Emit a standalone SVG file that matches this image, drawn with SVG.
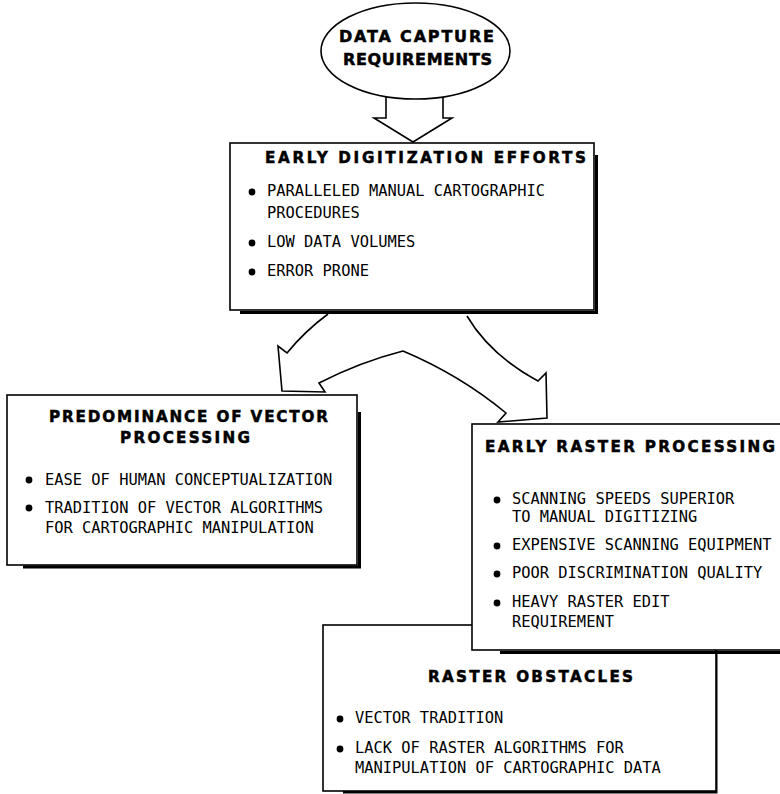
<svg xmlns="http://www.w3.org/2000/svg" width="780" height="794" viewBox="0 0 780 794">
<style>
.box{fill:#fff;stroke:#000;stroke-width:1.6}
.shadow{fill:none;stroke:#000;stroke-width:3}
.conn{fill:#fff;stroke:#000;stroke-width:1.6;stroke-linejoin:miter}
.title{font-family:"DejaVu Sans","Liberation Sans",sans-serif;font-weight:bold;font-size:15.2px;fill:#000;stroke:#000;stroke-width:0.5}
.body{font-family:"DejaVu Sans Mono",monospace;font-size:15.4px;fill:#000}
.dot{fill:#000}
</style>
<rect width="780" height="794" fill="#fff"/>
<g id="connectors">
<path class="conn" d="M386,90 L386,118 L374,118 L413,142 L452,118 L443,118 L443,90"/>
<path class="conn" d="M328,314 Q305,331 287,353 L278,346 L282,391 L325,392 L319,383 Q360,362 403,351 Q460,375 506,413 L498,422 L547,418 L546,373 L538,381 Q490,355 467,316"/>
</g>
<g id="data-capture">
<ellipse class="box" cx="415.5" cy="51" rx="94.5" ry="48"/>
<text class="title" x="339" y="42" textLength="155" lengthAdjust="spacing" style="font-size:16px">DATA CAPTURE</text>
<text class="title" x="343" y="65" textLength="149" lengthAdjust="spacing" style="font-size:16px">REQUIREMENTS</text>
</g>
<g id="early-digitization">
<polyline class="shadow" points="240,312.5 596.5,312.5 596.5,155"/>
<rect class="box" x="230" y="143" width="364" height="167"/>
<text class="title" x="265" y="163" textLength="321" lengthAdjust="spacing">EARLY DIGITIZATION EFFORTS</text>
<circle class="dot" cx="252" cy="192" r="3.4"/>
<text class="body" x="267" y="196">PARALLELED MANUAL CARTOGRAPHIC</text>
<text class="body" x="267" y="218">PROCEDURES</text>
<circle class="dot" cx="252" cy="243" r="3.4"/>
<text class="body" x="267" y="247">LOW DATA VOLUMES</text>
<circle class="dot" cx="252" cy="272" r="3.4"/>
<text class="body" x="267" y="276">ERROR PRONE</text>
</g>
<g id="vector-processing">
<polyline class="shadow" points="23,567 359.5,567 359.5,412"/>
<rect class="box" x="7" y="395" width="350" height="170"/>
<text class="title" x="49" y="422" textLength="279" lengthAdjust="spacing">PREDOMINANCE OF VECTOR</text>
<text class="title" x="120" y="443" textLength="130" lengthAdjust="spacing">PROCESSING</text>
<circle class="dot" cx="29" cy="480" r="3.4"/>
<text class="body" x="45" y="485">EASE OF HUMAN CONCEPTUALIZATION</text>
<circle class="dot" cx="29" cy="508" r="3.4"/>
<text class="body" x="45" y="513">TRADITION OF VECTOR ALGORITHMS</text>
<text class="body" x="45" y="533">FOR CARTOGRAPHIC MANIPULATION</text>
</g>
<g id="raster-obstacles">
<polyline class="shadow" points="343,792 716,792 716,640"/>
<rect class="box" x="323" y="625" width="393" height="166"/>
<text class="title" x="428" y="682" textLength="205" lengthAdjust="spacing">RASTER OBSTACLES</text>
<circle class="dot" cx="340" cy="719" r="3.4"/>
<text class="body" x="355" y="723">VECTOR TRADITION</text>
<circle class="dot" cx="340" cy="749" r="3.4"/>
<text class="body" x="355" y="753">LACK OF RASTER ALGORITHMS FOR</text>
<text class="body" x="355" y="773">MANIPULATION OF CARTOGRAPHIC DATA</text>
</g>
<g id="early-raster">
<polyline class="shadow" points="500,652.5 790,652.5"/>
<rect class="box" x="472" y="424" width="320" height="226"/>
<text class="title" x="485" y="452" textLength="290" lengthAdjust="spacing">EARLY RASTER PROCESSING</text>
<circle class="dot" cx="497" cy="500" r="3.4"/>
<text class="body" x="512" y="504">SCANNING SPEEDS SUPERIOR</text>
<text class="body" x="512" y="522">TO MANUAL DIGITIZING</text>
<circle class="dot" cx="497" cy="546" r="3.4"/>
<text class="body" x="512" y="550">EXPENSIVE SCANNING EQUIPMENT</text>
<circle class="dot" cx="497" cy="574" r="3.4"/>
<text class="body" x="512" y="578">POOR DISCRIMINATION QUALITY</text>
<circle class="dot" cx="497" cy="603" r="3.4"/>
<text class="body" x="512" y="607">HEAVY RASTER EDIT</text>
<text class="body" x="512" y="627">REQUIREMENT</text>
</g>
</svg>
